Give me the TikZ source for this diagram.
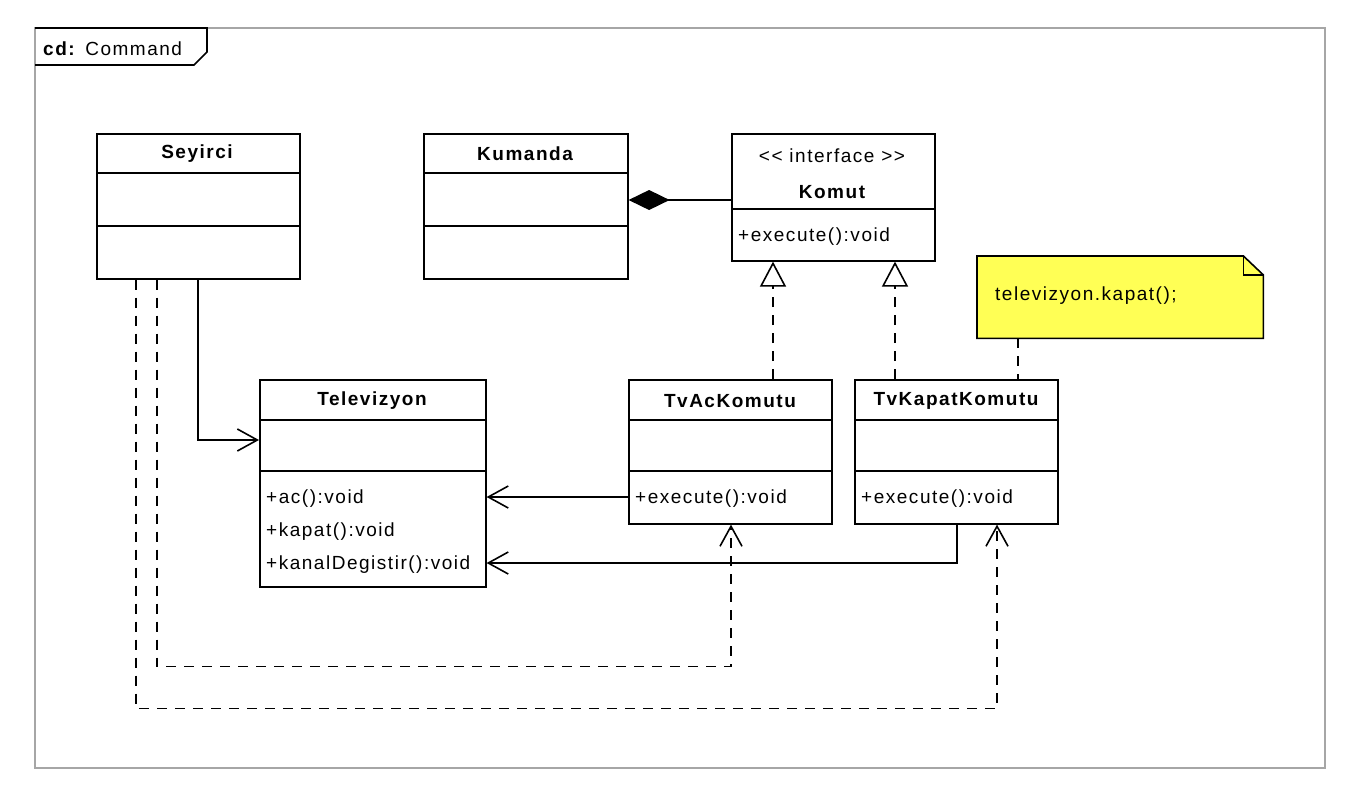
\documentclass[tikz,border=0pt]{standalone}
\usepackage{fontspec}
\setmainfont{Liberation Sans}[LetterSpace=8]
\usetikzlibrary{arrows.meta,calc}
\begin{document}
\begin{tikzpicture}[x=1pt,y=-1pt,
  cls/.style={draw, line width=1.6pt, fill=white, rectangle, inner sep=0pt, anchor=north west},
  txt/.style={font=\fontsize{19}{22}\selectfont, inner sep=0pt},
  nm/.style={txt, font=\fontsize{19}{22}\selectfont\bfseries},
  op/.style={txt, anchor=west},
  ln/.style={line width=1.6pt},
  assoc/.style={ln, -{Straight Barb[length=20pt,width=22pt,line width=1.6pt]}},
  real/.style={ln, dash pattern=on 10pt off 8pt, -{Triangle[open,length=25pt,width=26pt,line width=1.6pt]}},
  dep/.style={ln, dash pattern=on 10pt off 8pt, -{Straight Barb[length=20pt,width=22pt,line width=1.6pt]}},
  comp/.style={ln, -{Diamond[length=41pt,width=20pt]}},
  notelink/.style={ln, dash pattern=on 10pt off 8pt}
]
\useasboundingbox (0,0) rectangle (1349,796);
\fill[white] (0,0) rectangle (1349,796);

% frame
\draw[line width=1.4pt, gray!70] (35,28) rectangle (1325,768);
\draw[line width=1.6pt] (35,28) -- (207,28) -- (207,52) -- (194,65) -- (35,65);
\node[txt, anchor=west] (frlbl) at (43,49) {\textbf{cd:} Command};

% Seyirci
\node[cls, minimum width=203pt, minimum height=145pt] (sey) at (96,133) {};
\draw[ln] ($(sey.north west)+(0,40)$) -- ($(sey.north east)+(0,40)$);
\draw[ln] ($(sey.north west)+(0,93)$) -- ($(sey.north east)+(0,93)$);
\node[nm] (seyn) at (197,154) {Seyirci};

% Kumanda
\node[cls, minimum width=204pt, minimum height=145pt] (kum) at (423,133) {};
\draw[ln] ($(kum.north west)+(0,40)$) -- ($(kum.north east)+(0,40)$);
\draw[ln] ($(kum.north west)+(0,93)$) -- ($(kum.north east)+(0,93)$);
\node[nm] (kumn) at (525,154) {Kumanda};

% Komut
\node[cls, minimum width=203pt, minimum height=127pt] (kom) at (731,133) {};
\draw[ln] ($(kom.north west)+(0,76)$) -- ($(kom.north east)+(0,76)$);
\node[txt] (koms) at (832,156) {{<}{<} interface {>}{>}};
\node[nm] (komn) at (832,192) {Komut};
\node[op] (komop) at (738,237) {+execute():void};

% Televizyon
\node[cls, minimum width=226pt, minimum height=207pt] (tv) at (259,379) {};
\draw[ln] ($(tv.north west)+(0,41)$) -- ($(tv.north east)+(0,41)$);
\draw[ln] ($(tv.north west)+(0,92)$) -- ($(tv.north east)+(0,92)$);
\node[nm] (tvn) at (372,401) {Televizyon};
\node[op] (tvop1) at (266,499) {+ac():void};
\node[op] (tvop2) at (266,532) {+kapat():void};
\node[op] (tvop3) at (266,565) {+kanalDegistir():void};

% TvAcKomutu
\node[cls, minimum width=203pt, minimum height=144pt] (tvac) at (628,379) {};
\draw[ln] ($(tvac.north west)+(0,41)$) -- ($(tvac.north east)+(0,41)$);
\draw[ln] ($(tvac.north west)+(0,92)$) -- ($(tvac.north east)+(0,92)$);
\node[nm] (tvacn) at (730,401) {TvAcKomutu};
\node[op] (tvacop) at (635,499) {+execute():void};

% TvKapatKomutu
\node[cls, minimum width=203pt, minimum height=144pt] (tvkap) at (854,379) {};
\draw[ln] ($(tvkap.north west)+(0,41)$) -- ($(tvkap.north east)+(0,41)$);
\draw[ln] ($(tvkap.north west)+(0,92)$) -- ($(tvkap.north east)+(0,92)$);
\node[nm] (tvkapn) at (956,401) {TvKapatKomutu};
\node[op] (tvkapop) at (861,499) {+execute():void};

% Note
\node[inner sep=0pt, minimum width=286pt, minimum height=82pt, anchor=north west] (note) at (977,256) {};
\draw[ln, fill={rgb,255:red,255;green,255;blue,85}] (note.north west) -- ($(note.north east)+(-20,0)$) -- ($(note.north east)+(0,19)$) -- (note.south east) -- (note.south west) -- cycle;
\draw[ln] ($(note.north east)+(-20,0)$) |- ($(note.north east)+(0,19)$);
\node[op] (notetxt) at (995,296) {televizyon.kapat();};

% connectors
\draw[assoc] ($(sey.south west)+(102,0)$) |- ($(tv.north west)+(0,61)$);
\draw[assoc] ($(tvac.north west)+(0,118)$) -- ($(tv.north east)+(0,118)$);
\draw[assoc] ($(tvkap.south west)+(103,0)$) |- ($(tv.north east)+(0,184)$);
\draw[comp] ($(kom.north west)+(0,67)$) -- ($(kum.north east)+(0,67)$);
\draw[real] ($(tvac.north west)+(145,0)$) -- ($(kom.south west)+(42,0)$);
\draw[real] ($(tvkap.north west)+(41,0)$) -- ($(kom.south west)+(164,0)$);
\draw[notelink] ($(note.south west)+(41,0)$) -- ($(tvkap.north west)+(164,0)$);
\draw[dep] ($(sey.south west)+(61,0)$) -- ++(0,387) -| ($(tvac.south west)+(103,0)$);
\draw[dep] ($(sey.south west)+(40,0)$) -- ++(0,429) -| ($(tvkap.south west)+(143,0)$);
\end{tikzpicture}
\end{document}
